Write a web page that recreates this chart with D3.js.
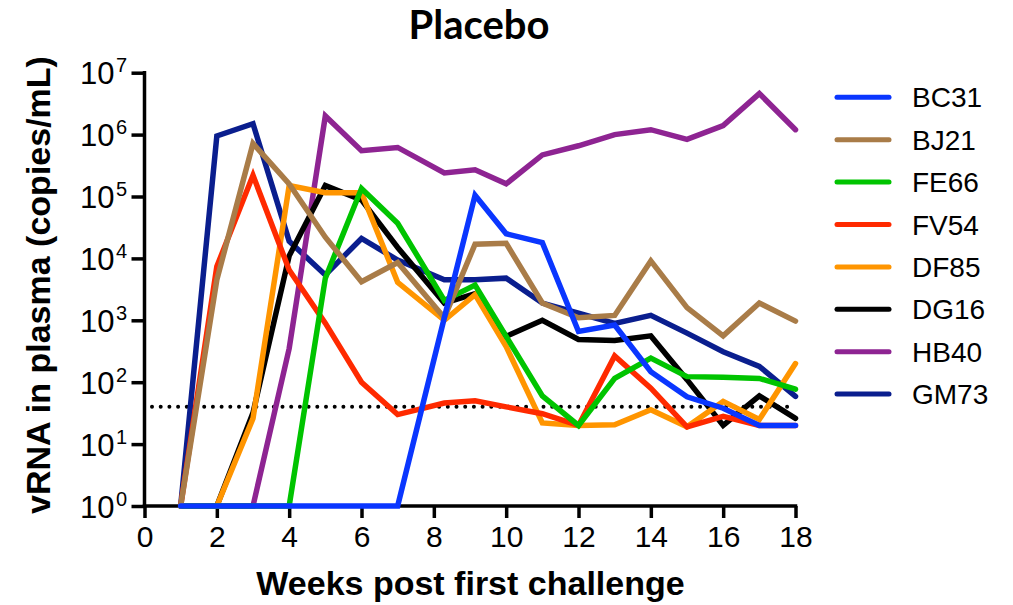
<!DOCTYPE html>
<html>
<head>
<meta charset="utf-8">
<script src="https://cdn.jsdelivr.net/npm/d3@7"></script>
<style>
  body { margin: 0; background: #fff; }
  svg { display: block; }
</style>
</head>
<body>
<div class="chart"></div>
<script>
// sampling times (weeks post first challenge)
const weeks = [1, 2, 3, 4, 5, 6, 7, 8.29, 9.14, 10, 11, 12, 13, 14, 15, 16, 17, 18];

const animals = ['BC31', 'BJ21', 'FE66', 'FV54', 'DF85', 'DG16', 'HB40', 'GM73'];
const colors = ['#0a36ff', '#a97c48', '#00c400', '#ff2a00', '#ff9500', '#000000', '#8e2492', '#0a1e8e'];

// vRNA copies/mL per animal
const BC31 = [1, 1, 1, 1, 1, 1, 1, 1100, 105000, 25000, 18000, 660, 840, 148, 58, 38, 20, 20];
const BJ21 = [1, 4500, 720000, 160000, 22000, 4200, 8600, 1100, 17000, 17500, 1900, 1100, 1200, 9100, 1600, 560, 1900, 970];
const FE66 = [1, 1, 1, 1, 4800, 135000, 37000, 2100, 3700, 550, 60, 20, 115, 245, 123, 120, 115, 77];
const FV54 = [1, 7400, 220000, 6500, 900, 100, 30, 46, 50, 40, 31, 20, 265, 80, 19, 28, 20, 20];
const DF85 = [1, 1, 26, 150000, 115000, 115000, 4100, 1000, 2600, 375, 22, 20, 20.5, 36, 19, 49, 25, 200];
const DG16 = [1, 1, 32, 11000, 150000, 88000, 15000, 1900, 2700, 550, 1000, 490, 470, 560, 110, 20, 60, 26];
const HB40 = [1, 1, 1, 350, 2000000, 550000, 620000, 240000, 270000, 160000, 470000, 660000, 1000000, 1200000, 840000, 1400000, 4600000, 1200000];
const GM73 = [1, 950000, 1500000, 19000, 5400, 21000, 9400, 4500, 4500, 4800, 1900, 1300, 890, 1200, 620, 310, 180, 59];

const seriesValues = [BC31, BJ21, FE66, FV54, DF85, DG16, HB40, GM73];

const xTicks = [0, 2, 4, 6, 8, 10, 12, 14, 16, 18];
const yTicks = [1, 10, 100, 1e3, 1e4, 1e5, 1e6, 1e7];
const detectionLimit = 40;

const W = 1013, H = 605;
const svg = d3.select('div.chart').append('svg')
    .attr('width', W)
    .attr('height', H);

const x = d3.scaleLinear().domain([0, 18]).range([144.5, 795.5]);
const y = d3.scaleLog().domain([1, 1e7]).range([506, 72.7]);

const axisFont = 'Liberation Sans, Arial, sans-serif';

// title
svg.append('text')
    .attr('x', 479).attr('y', 39)
    .attr('text-anchor', 'middle')
    .style('font-family', 'Lato, Carlito, sans-serif')
    .style('font-weight', 'bold')
    .style('font-size', '40px')
    .text('Placebo');

// x axis
const xAxis = svg.append('g')
    .attr('transform', `translate(0,${y(1)})`)
    .call(d3.axisBottom(x).tickValues(xTicks).tickSize(12).tickSizeOuter(0).tickPadding(8));
xAxis.select('.domain').attr('stroke-width', 3.5).attr('d', `M${x(0) - 1.75},0H${x(18) + 1.75}`);
xAxis.selectAll('.tick line').attr('stroke-width', 3.5);
xAxis.selectAll('.tick text')
    .style('font-family', axisFont)
    .style('font-size', '30px')
    .attr('fill', '#000');

// y axis
const yAxis = svg.append('g')
    .attr('transform', `translate(${x(0)},0)`)
    .call(d3.axisLeft(y).tickValues(yTicks).tickSize(13).tickSizeOuter(0).tickFormat(''));
yAxis.select('.domain').attr('stroke-width', 3.5).attr('d', `M0,${y(1) + 1.75}V${y(1e7) - 1.75}`);
yAxis.selectAll('.tick line').attr('stroke-width', 3.5);

// y tick labels as 10^n
yAxis.selectAll('.tick').each(function(d) {
    const t = d3.select(this).append('text')
        .attr('fill', '#000')
        .attr('text-anchor', 'end')
        .style('font-family', axisFont);
    t.append('tspan').attr('x', -30).attr('y', 11).style('font-size', '31px').text('10');
    t.append('tspan').attr('x', -17.5).attr('y', -1).style('font-size', '20px').text(Math.round(Math.log10(d)));
});

// axis titles
svg.append('text')
    .attr('x', 470.5).attr('y', 595)
    .attr('text-anchor', 'middle')
    .style('font-family', axisFont)
    .style('font-weight', 'bold')
    .style('font-size', '34px')
    .text('Weeks post first challenge');

svg.append('text')
    .attr('transform', 'translate(50,285) rotate(-90)')
    .attr('text-anchor', 'middle')
    .style('font-family', axisFont)
    .style('font-weight', 'bold')
    .style('font-size', '34px')
    .text('vRNA in plasma (copies/mL)');

// detection limit
svg.append('line')
    .attr('x1', 152).attr('x2', 790)
    .attr('y1', y(detectionLimit)).attr('y2', y(detectionLimit))
    .attr('stroke', '#000')
    .attr('stroke-width', 4)
    .attr('stroke-linecap', 'round')
    .attr('stroke-dasharray', '0 8.7');

// lines, first animal drawn last (on top)
const line = d3.line()
    .x((d, i) => x(weeks[i]))
    .y(d => y(d));

const order = d3.range(animals.length).reverse();
svg.append('g').selectAll('path')
    .data(order)
    .enter()
    .append('path')
    .attr('d', i => line(seriesValues[i]))
    .attr('fill', 'none')
    .attr('stroke', i => colors[i])
    .attr('stroke-width', 5.5)
    .attr('stroke-linejoin', 'miter')
    .attr('stroke-linecap', 'round');

// legend
const legend = svg.append('g').selectAll('g')
    .data(animals)
    .enter()
    .append('g')
    .attr('transform', (d, i) => `translate(0,${97.3 + i * 42.4})`);
legend.append('line')
    .attr('x1', 837).attr('x2', 889)
    .attr('stroke', (d, i) => colors[i])
    .attr('stroke-width', 5)
    .attr('stroke-linecap', 'round');
legend.append('text')
    .attr('x', 912).attr('y', 10)
    .style('font-family', axisFont)
    .style('font-size', '28px')
    .text(d => d);
</script>
</body>
</html>
